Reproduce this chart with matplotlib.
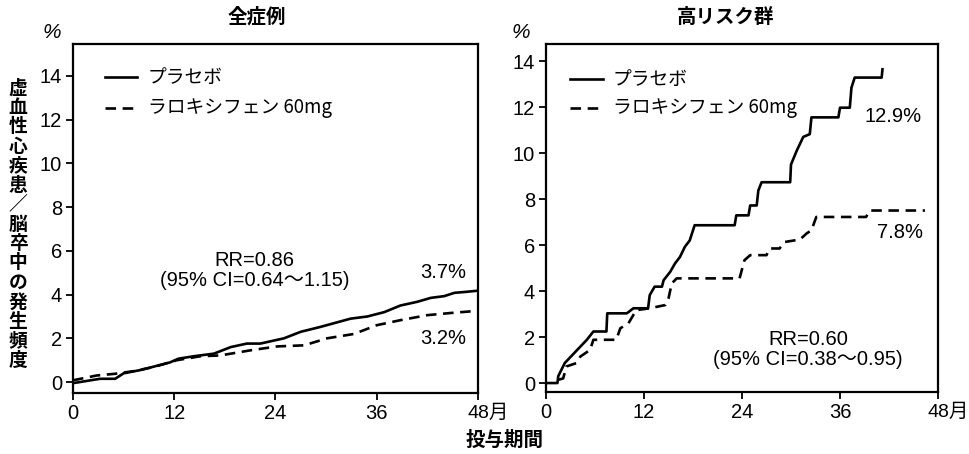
import matplotlib
matplotlib.use("Agg")
import matplotlib.pyplot as plt
from matplotlib import font_manager as fm
from matplotlib.transforms import offset_copy

JP = 'Noto Sans CJK JP'
names = {f.name for f in fm.fontManager.ttflist}
NUM = 'Liberation Sans Narrow' if 'Liberation Sans Narrow' in names else 'Liberation Sans'
plt.rcParams['font.family'] = [NUM, JP, 'DejaVu Sans']

# ---- data ----
titles = ["全症例", "高リスク群"]
legend_labels = ["プラセボ", "ラロキシフェン 60mg"]
xticks = [0, 12, 24, 36, 48]
xtick_labels = ["0", "12", "24", "36", "48月"]
yticks = [0, 2, 4, 6, 8, 10, 12, 14]

all_pl_x = [0, 3.2, 5, 6, 8, 10, 11.5, 12.5, 14.3, 16.7, 18.7, 20.6, 22.2, 25, 27, 29.3, 32.9,
            34.9, 36.9, 38.8, 40.8, 42.4, 44, 45.2, 46.7, 48]
all_pl_y = [-0.05, 0.15, 0.15, 0.4, 0.55, 0.75, 0.9, 1.07, 1.18, 1.3, 1.6, 1.76, 1.76, 2.0, 2.3,
            2.52, 2.9, 3.0, 3.2, 3.5, 3.67, 3.85, 3.93, 4.08, 4.13, 4.18]
all_rx_x = [0, 2.8, 5, 7.2, 9.6, 12.3, 15.1, 17.5, 21, 24.2, 27.4, 30.1, 33.3, 36, 38.8, 42,
            44.8, 48]
all_rx_y = [0.08, 0.3, 0.38, 0.5, 0.69, 1.0, 1.18, 1.22, 1.45, 1.63, 1.68, 2.0, 2.2, 2.6, 2.83,
            3.06, 3.16, 3.26]

hr_pl_x = [0, 1.4, 1.5, 2.3, 5, 5.8, 7.4, 7.5, 9.9, 10.7, 12.5, 12.7, 13.3, 14.2, 14.4, 15.2,
           15.8, 16.4, 17, 17.6, 18.2, 23.1, 23.3, 24.8, 25, 25.8, 26, 26.4, 29.9, 30, 30.7, 31.5,
           32.3, 32.5, 35.8, 36, 37.2, 37.4, 37.8, 41.1, 41.2]
hr_pl_y = [0, 0, 0.3, 0.87, 1.88, 2.24, 2.24, 3.03, 3.03, 3.25, 3.25, 3.82, 4.19, 4.19, 4.47,
           4.83, 5.2, 5.48, 5.92, 6.2, 6.86, 6.86, 7.29, 7.29, 7.72, 7.72, 8.37, 8.73, 8.73, 9.5,
           10.1, 10.7, 10.82, 11.55, 11.55, 11.97, 11.97, 12.84, 13.28, 13.28, 13.64]
hr_rx_x = [1.5, 2.1, 2.5, 3.75, 4.2, 5.4, 5.8, 8.6, 9.1, 10.1, 10.7, 11.1, 12.7, 14.6, 15.0,
           15.4, 16.0, 23.7, 24.3, 25.0, 27.0, 27.4, 28.6, 29.2, 31.1, 31.9, 32.5, 33.1, 39.2,
           39.6, 46.4]
hr_rx_y = [0.14, 0.2, 0.72, 0.87, 1.15, 1.44, 1.88, 1.88, 2.38, 2.6, 2.96, 3.17, 3.25, 3.39,
           3.68, 4.33, 4.55, 4.55, 5.34, 5.56, 5.56, 5.85, 5.85, 6.13, 6.24, 6.5, 6.64, 7.22,
           7.22, 7.5, 7.5]

end_labels = [("3.7%", "3.2%"), ("12.9%", "7.8%")]
rr_texts = ["RR=0.86\n(95% CI=0.64〜1.15)", "RR=0.60\n(95% CI=0.38〜0.95)"]
ylabel = "虚血性心疾患／脳卒中の発生頻度"
xlabel = "投与期間"

# ---- figure ----
fig = plt.figure(figsize=(9.7, 4.54), dpi=100)
W, H = 970, 454
def ax_rect(l, r, t, b):
    return [l / W, 1 - b / H, (r - l) / W, (b - t) / H]

ax1 = fig.add_axes(ax_rect(73, 478, 44, 393))
ax2 = fig.add_axes(ax_rect(546, 938, 44, 392))
axes = [ax1, ax2]
ylims = [(-0.5, 15.46), (-0.39, 14.74)]
series = [((all_pl_x, all_pl_y), (all_rx_x, all_rx_y)),
          ((hr_pl_x, hr_pl_y), (hr_rx_x, hr_rx_y))]

tick_fs = 14.5
DASH = (4, 2.5)
for i, ax in enumerate(axes):
    (px, py), (rx, ry) = series[i]
    ax.plot(px, py, color='black', lw=1.9)
    ax.plot(rx, ry, color='black', lw=1.9, dashes=DASH)
    ax.set_xlim(0, 48)
    ax.set_ylim(*ylims[i])
    ax.set_xticks(xticks)
    ax.set_xticklabels(xtick_labels)
    ax.set_yticks(yticks)
    ax.set_yticklabels([str(v) for v in yticks])
    ax.tick_params(direction='out', length=5, width=1.3, labelsize=tick_fs, pad=3)
    for lab in ax.get_xticklabels():
        lab.set_family([NUM, JP])
    last = ax.get_xticklabels()[-1]
    last.set_horizontalalignment('left')
    last.set_fontsize(14)
    last.set_transform(offset_copy(last.get_transform(), fig=fig, x=-10, y=0, units='dots'))
    for s in ax.spines.values():
        s.set_linewidth(1.6)

# legends (manual)
leg_pos = [(105, 137, 148, 77, 108), (570, 603, 613, 79, 108)]
for i, ax in enumerate(axes):
    x0, x1, xt, y1, y2 = leg_pos[i]
    for k, yy in enumerate([y1, y2]):
        fy = 1 - yy / H
        line = plt.Line2D([x0 / W, x1 / W], [fy, fy], transform=fig.transFigure,
                          color='black', lw=1.9)
        if k == 1:
            line.set_dashes(DASH)
        fig.add_artist(line)
        fig.text(xt / W, fy, legend_labels[k], ha='left', va='center', fontsize=13.5,
                 family=[JP, NUM])

# end labels
ax1.text(43.9, 5.0, end_labels[0][0], ha='center', va='center', fontsize=14.5)
ax1.text(43.9, 2.0, end_labels[0][1], ha='center', va='center', fontsize=14.5)
ax2.text(42.5, 11.6, end_labels[1][0], ha='center', va='center', fontsize=14.5)
ax2.text(43.3, 6.55, end_labels[1][1], ha='center', va='center', fontsize=14.5)

# RR text
ax1.text(21.5, 5.1, rr_texts[0], ha='center', va='center', fontsize=14.5, linespacing=1.1,
         family=[NUM, JP])
ax2.text(32.1, 1.45, rr_texts[1], ha='center', va='center', fontsize=14.5, linespacing=1.1,
         family=[NUM, JP])

# titles
fig.text(257 / W, 1 - 17 / H, titles[0], ha='center', va='center', fontsize=14,
         family=[JP], fontweight='bold')
fig.text(726 / W, 1 - 17 / H, titles[1], ha='center', va='center', fontsize=14,
         family=[JP], fontweight='bold')

# % labels
fig.text(52 / W, 1 - 33 / H, "%", ha='center', va='center', fontsize=15, style='italic')
fig.text(521 / W, 1 - 33 / H, "%", ha='center', va='center', fontsize=15, style='italic')

# y label stacked vertically
fig.text(18 / W, 1 - 224 / H, "\n".join(ylabel), ha='center', va='center', fontsize=13.5,
         family=[JP], fontweight='bold', linespacing=1.03)

# x label
fig.text(505 / W, 1 - 440 / H, xlabel, ha='center', va='center', fontsize=14,
         family=[JP], fontweight='bold')

fig.savefig("out.png", dpi=100)
